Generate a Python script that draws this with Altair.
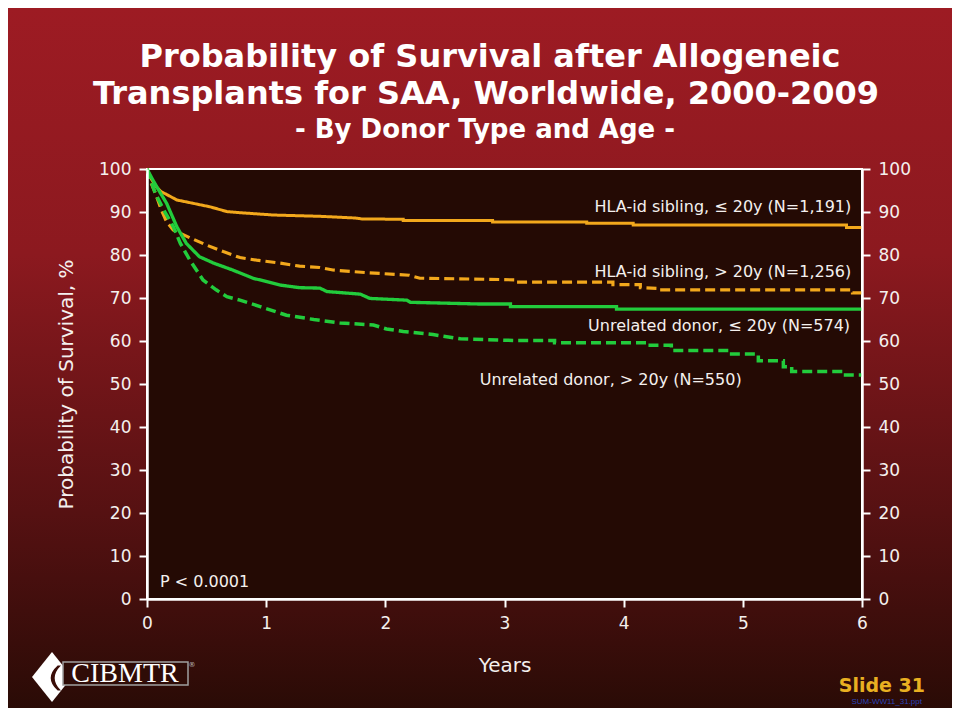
import altair as alt
import pandas as pd

# ---------------- data (step corners given as point pairs) ----------------
sib_le20_t = [0, 0.04, 0.08, 0.12, 0.17, 0.25, 0.39, 0.53, 0.67, 0.8, 1.06, 1.45, 1.75, 1.8, 2.15, 2.15,
              2.9, 2.9, 3.69, 3.69, 4.08, 4.08, 5.87, 5.87, 6.0]
sib_le20_s = [100, 97.5, 95.8, 94.7, 94.0, 92.8, 92.0, 91.2, 90.1, 89.8, 89.3, 89.0, 88.6, 88.4, 88.3, 88.0,
              88.0, 87.7, 87.7, 87.4, 87.4, 87.0, 87.0, 86.4, 86.4]

sib_gt20_t = [0, 0.03, 0.07, 0.12, 0.165, 0.22, 0.36, 0.5, 0.64, 0.78, 0.92, 1.12, 1.28, 1.45, 1.56, 1.84,
              2.2, 2.29, 2.96, 3.1, 3.1, 3.91, 3.91, 4.14, 4.14, 4.3, 4.3, 5.92, 5.92, 6.0]
sib_gt20_s = [100, 97.0, 94.4, 90.5, 87.7, 85.8, 84.0, 82.3, 80.8, 79.4, 78.8, 78.1, 77.4, 77.1, 76.5, 75.9,
              75.3, 74.6, 74.3, 74.2, 73.7, 73.7, 73.1, 73.1, 72.4, 72.2, 71.9, 71.9, 71.2, 71.2]

unr_le20_t = [0, 0.05, 0.1, 0.165, 0.25, 0.33, 0.44, 0.56, 0.72, 0.89, 1.12, 1.28, 1.45, 1.51, 1.79, 1.87,
              2.18, 2.21, 2.79, 3.05, 3.05, 3.94, 3.94, 6.0]
unr_le20_s = [100, 97.4, 95.0, 92.0, 86.6, 82.7, 79.6, 78.1, 76.5, 74.6, 73.0, 72.4, 72.3, 71.5, 70.9, 69.9,
              69.5, 69.0, 68.6, 68.6, 68.0, 68.0, 67.4, 67.4]

unr_gt20_t = [0, 0.04, 0.07, 0.14, 0.22, 0.28, 0.36, 0.47, 0.58, 0.67, 0.78, 0.95, 1.17, 1.4, 1.62, 1.9,
              2.01, 2.15, 2.4, 2.63, 3.1, 3.42, 3.42, 4.2, 4.2, 4.4, 4.4, 4.88, 4.88, 5.13, 5.13, 5.34, 5.34,
              5.41, 5.41, 5.82, 5.82, 6.0]
unr_gt20_s = [100, 96.7, 94.3, 90.5, 86.6, 82.7, 78.8, 74.2, 71.9, 70.3, 69.5, 68.0, 66.0, 65.0, 64.2, 63.7,
              62.8, 62.2, 61.5, 60.5, 60.1, 60.1, 59.6, 59.6, 59.0, 59.0, 57.8, 57.8, 57.0, 57.0, 55.4, 55.4, 54.0,
              54.0, 52.9, 52.9, 52.1, 52.1]

series_names = ["HLA-id sibling, ≤ 20y (N=1,191)", "HLA-id sibling, > 20y (N=1,256)",
                "Unrelated donor, ≤ 20y (N=574)", "Unrelated donor, > 20y (N=550)"]
label_t = [5.91, 5.91, 5.90, 4.99]
label_s = [91.2, 76.1, 63.5, 50.9]

x_ticks = [0, 0.5, 1, 1.5, 2, 2.5, 3, 3.5, 4, 4.5, 5, 5.5, 6]
y_ticks = [0, 10, 20, 30, 40, 50, 60, 70, 80, 90, 100]

rows = []
for name, ts, ss in zip(series_names,
                        [sib_le20_t, sib_gt20_t, unr_le20_t, unr_gt20_t],
                        [sib_le20_s, sib_gt20_s, unr_le20_s, unr_gt20_s]):
    for i, (t, s) in enumerate(zip(ts, ss)):
        rows.append({"series": name, "t": t, "s": s, "i": i})
curves = pd.DataFrame(rows)
labels = pd.DataFrame({"series": series_names, "t": label_t, "s": label_s})

# ---------------- layout ----------------
W, H = 715, 430
PL, PT, PR, PB = 139, 161, 90, 109
one = pd.DataFrame({"k": [0]})
FONT = "DejaVu Sans"
TXT = "#f4f0ee"

xscale = alt.Scale(domain=[0, 6], nice=False, zero=False)
yscale = alt.Scale(domain=[0, 100], nice=False)

bg = alt.Chart(one).mark_rect(
    fill=alt.Gradient(gradient="linear", x1=0, y1=0, x2=0, y2=1,
                      stops=[alt.GradientStop(offset=0, color="#9d1b23"),
                             alt.GradientStop(offset=0.35, color="#8c191f"),
                             alt.GradientStop(offset=0.72, color="#561112"),
                             alt.GradientStop(offset=1, color="#2a0b06")])
).encode(x=alt.value(-PL), x2=alt.value(W + PR), y=alt.value(-PT), y2=alt.value(H + PB))

plot_bg = alt.Chart(one).mark_rect(fill="#240a04", stroke="white", strokeWidth=2).encode(
    x=alt.value(0), x2=alt.value(W), y=alt.value(0), y2=alt.value(H))

color_scale = alt.Scale(domain=series_names, range=["#f2a81c", "#f2a81c", "#22cc3c", "#22cc3c"])
dash_scale = alt.Scale(domain=series_names, range=[[1, 0], [10, 5], [1, 0], [10, 5]])
width_scale = alt.Scale(domain=series_names, range=[3, 3.5, 4, 4])

axis_common = dict(grid=False, domainColor="white", domainWidth=2.5, tickColor="white", tickWidth=2,
                   tickSize=8, labelColor=TXT, labelFont=FONT, labelFontSize=17, titleColor=TXT,
                   titleFont=FONT, titleFontWeight="normal", zindex=2, labelFlush=False)

lines = alt.Chart(curves).mark_line(interpolate="linear", strokeCap="butt").encode(
    x=alt.X("t:Q", scale=xscale,
            axis=alt.Axis(title="Years", values=x_ticks, format="d",
                          labelExpr="datum.value % 1 == 0 ? datum.label : ''",
                          titleFontSize=20, titlePadding=24, labelPadding=8, **axis_common)),
    y=alt.Y("s:Q", scale=yscale,
            axis=alt.Axis(title="Probability of Survival, %", values=y_ticks, orient="left",
                          titleFontSize=20, titlePadding=22, labelPadding=8, **axis_common)),
    color=alt.Color("series:N", scale=color_scale, legend=None),
    strokeDash=alt.StrokeDash("series:N", scale=dash_scale, legend=None),
    strokeWidth=alt.StrokeWidth("series:N", scale=width_scale, legend=None),
    detail="series:N",
    order="i:Q",
)

label_layer = alt.Chart(labels).mark_text(
    align="right", baseline="middle", font=FONT, fontSize=16, color=TXT
).encode(
    x=alt.X("t:Q", scale=xscale),
    y=alt.Y("s:Q", scale=yscale,
            axis=alt.Axis(title=None, values=y_ticks, orient="right", labelPadding=8, **axis_common)),
    text="series:N",
)

def txt(text, px, py, **kw):
    return alt.Chart(one).mark_text(text=text, **kw).encode(x=alt.value(px), y=alt.value(py))

p_text = txt("P < 0.0001", 13, 413, align="left", baseline="middle", font=FONT, fontSize=16, color=TXT)

title1 = txt("Probability of Survival after Allogeneic", 343, -112, align="center", baseline="middle",
             font=FONT, fontWeight="bold", fontSize=32, color="white")
title2 = txt("Transplants for SAA, Worldwide, 2000-2009", 339, -75, align="center", baseline="middle",
             font=FONT, fontWeight="bold", fontSize=32, color="white")
title3 = txt("- By Donor Type and Age -", 338, -39, align="center", baseline="middle",
             font=FONT, fontWeight="bold", fontSize=26, color="white")

slide = txt("Slide 31", 778, 517, align="right", baseline="middle", font=FONT, fontWeight="bold",
            fontSize=19, color="#e9b021")
fname = txt("SUM-WW11_31.ppt", 775, 533, align="right", baseline="middle", font="Liberation Sans",
            fontSize=8, color="#2b44b8")

# CIBMTR logo
diamond = alt.Chart(one).mark_point(
    shape="M0,-1.25L1,0L0,1.25L-1,0Z", filled=True, fill="white", opacity=1, size=1600, strokeWidth=0
).encode(x=alt.value(-95), y=alt.value(508))
notch = alt.Chart(one).mark_point(
    shape="M0.2,-0.95Q-0.85,0 0.2,0.95L0.45,0.95Q-0.5,0 0.45,-0.95Z", filled=True, fill="#3a0d08",
    opacity=1, size=700, strokeWidth=0
).encode(x=alt.value(-92), y=alt.value(509))
logo_box = alt.Chart(one).mark_rect(fill="#2f0c07", stroke="#a0a0a0", strokeWidth=1.5).encode(
    x=alt.value(-84), x2=alt.value(41), y=alt.value(493), y2=alt.value(516))
logo_text = txt("CIBMTR", -22, 505, align="center", baseline="middle", font="Liberation Serif",
                fontSize=28, color="white")
logo_r = txt("®", 45, 496, align="center", baseline="middle", font=FONT, fontSize=7, color="#bbbbbb")

chart = alt.layer(
    bg, plot_bg, lines, label_layer, p_text, title1, title2, title3, slide, fname,
    diamond, notch, logo_box, logo_text, logo_r
).resolve_axis(y="independent").properties(
    width=W, height=H,
    autosize=alt.AutoSizeParams(type="none"),
    padding={"left": PL, "top": PT, "right": PR, "bottom": PB},
    background="#2a0b06",
).configure_view(stroke=None)

chart.save("out.html", embed_options={"renderer": "svg", "actions": False})
